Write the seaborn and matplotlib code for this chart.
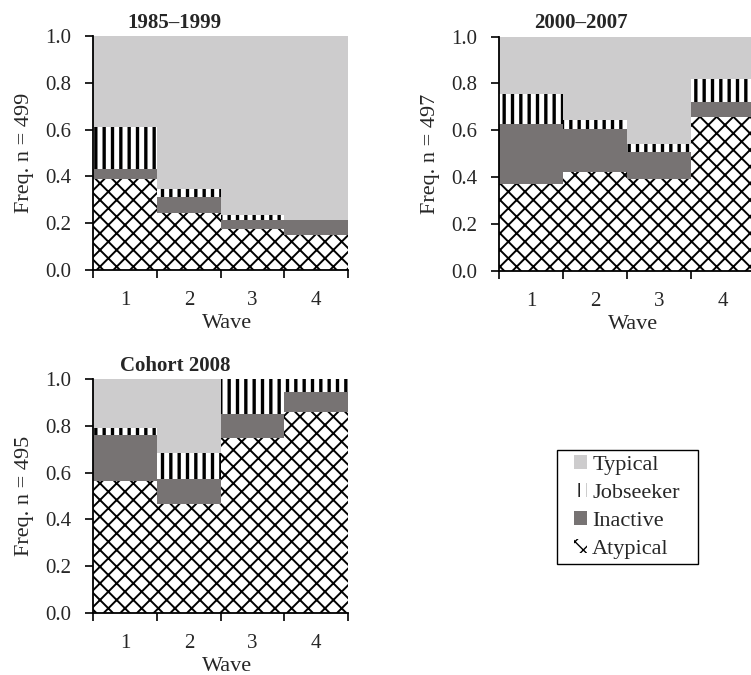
import numpy as np
import pandas as pd
import seaborn as sns
import matplotlib
matplotlib.use('Agg')
import matplotlib.pyplot as plt
from matplotlib.patches import Patch, Rectangle

# shares per wave
waves = [1, 2, 3, 4]
titles = ["1985\u20131999", "2000\u20132007", "Cohort 2008"]
n_sizes = [499, 497, 495]

atypical_a = [0.39, 0.245, 0.175, 0.15]
inactive_a = [0.04, 0.065, 0.04, 0.065]
jobseeker_a = [0.18, 0.035, 0.02, 0.0]

atypical_b = [0.37, 0.42, 0.39, 0.655]
inactive_b = [0.255, 0.185, 0.115, 0.065]
jobseeker_b = [0.13, 0.04, 0.035, 0.10]

atypical_c = [0.565, 0.465, 0.75, 0.86]
inactive_c = [0.195, 0.11, 0.10, 0.085]
jobseeker_c = [0.03, 0.11, 0.15, 0.055]

panels = [
    (atypical_a, inactive_a, jobseeker_a),
    (atypical_b, inactive_b, jobseeker_b),
    (atypical_c, inactive_c, jobseeker_c),
]

typical_col = "#cdcccd"
inactive_col = "#777373"

sns.set_style("white")
plt.rcParams['font.family'] = ['Liberation Serif', 'DejaVu Serif']

fig = plt.figure(figsize=(7.51, 6.75), dpi=100)
positions = [
    [0.1242, 0.600, 0.3395, 0.3467],
    [0.665, 0.599, 0.3395, 0.3467],
    [0.1242, 0.0923, 0.3395, 0.3457],
]


def layer(ax, df, col, color, hatch=None, hlw=1.0):
    with plt.rc_context({'hatch.linewidth': hlw}):
        sns.barplot(data=df, x="wave", y=col, ax=ax, color=color, saturation=1,
                    width=1.0, edgecolor="black", linewidth=0, hatch=hatch,
                    errorbar=None)
    for p in ax.patches:
        if hasattr(p, "set_hatch_linewidth") and p.get_hatch() == hatch:
            p.set_hatch_linewidth(hlw)


for i, (atyp, inact, jobs) in enumerate(panels):
    ax = fig.add_axes(positions[i])
    df = pd.DataFrame({"wave": waves, "atypical": atyp,
                       "inactive": inact, "jobseeker": jobs})
    df["top_inactive"] = df["atypical"] + df["inactive"]
    df["top_jobseeker"] = df["top_inactive"] + df["jobseeker"]
    df["top_typical"] = 1.0

    # painter's order: tallest cumulative first
    layer(ax, df, "top_typical", typical_col)
    layer(ax, df, "top_jobseeker", "white", hatch="||", hlw=2.4)
    layer(ax, df, "top_inactive", inactive_col)
    layer(ax, df, "atypical", "white", hatch="xx", hlw=1.4)

    ax.set_xlim(-0.5, 3.5)
    ax.set_ylim(0, 1.0)
    ax.set_yticks(np.arange(0, 1.01, 0.2))
    ax.set_yticklabels([f"{v:.1f}" for v in np.arange(0, 1.01, 0.2)])
    ax.set_xticks(range(4))
    ax.set_xticklabels([str(w) for w in waves])
    ax.set_xticks(np.arange(-0.5, 3.6, 1.0), minor=True)
    ax.tick_params(axis="x", which="major", length=0, pad=15, labelsize=15)
    ax.tick_params(axis="x", which="minor", length=6, width=1.2,
                   direction="out", bottom=True, color="black")
    ax.tick_params(axis="y", length=6, width=1.2, direction="out",
                   left=True, pad=10, labelsize=15, color="black")
    for s in ["top", "right"]:
        ax.spines[s].set_visible(False)
    for s in ["left", "bottom"]:
        ax.spines[s].set_color("black")
        ax.spines[s].set_linewidth(1.3)
    ax.set_xlabel("Wave", fontsize=16, labelpad=3, x=0.525)
    ax.set_ylabel(f"Freq. n = {n_sizes[i]}", fontsize=16, labelpad=8)
    ax.set_title(titles[i], fontsize=15, fontweight="bold", x=0.32, pad=6)

with plt.rc_context({'hatch.linewidth': 2.4}):
    h_job = Patch(facecolor="white", edgecolor="black", linewidth=0, hatch="||")
with plt.rc_context({'hatch.linewidth': 1.4}):
    h_aty = Patch(facecolor="white", edgecolor="black", linewidth=0, hatch="xx")
handles = [
    Patch(facecolor=typical_col, linewidth=0),
    h_job,
    Patch(facecolor=inactive_col, linewidth=0),
    h_aty,
]
leg = fig.legend(handles, ["Typical", "Jobseeker", "Inactive", "Atypical"],
                 loc="upper left", bbox_to_anchor=(574 / 751, 1 - 455 / 675),
                 fontsize=16, frameon=False,
                 handlelength=0.57, handleheight=0.57, handletextpad=0.25,
                 labelspacing=0.38, borderpad=0, borderaxespad=0)
# legend box drawn separately: wider side padding than top/bottom
fig.patches.append(Rectangle((557 / 751, 1 - 564 / 675), 141 / 751, 114 / 675,
                             transform=fig.transFigure, fill=False,
                             edgecolor="black", linewidth=1.0))

fig.savefig("out.png", dpi=100)
